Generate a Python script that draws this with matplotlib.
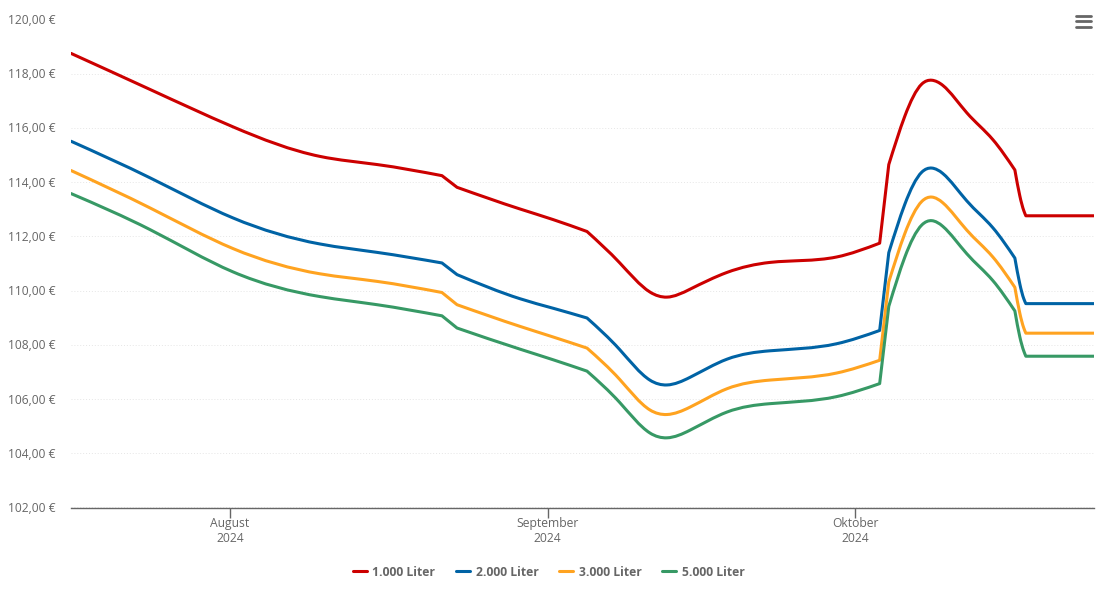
import matplotlib
matplotlib.use("Agg")
import numpy as np
import matplotlib.pyplot as plt
from matplotlib.lines import Line2D
from matplotlib.patches import PathPatch
from matplotlib.path import Path
from matplotlib.transforms import ScaledTranslation

plt.rcParams['font.family'] = ['Open Sans', 'DejaVu Sans']

# days counted from 1 Aug 2024
days = [-15.49, -7.78, 0.32, 8.8, 14.37, 20.7,
        22.17, 28.32, 31.54, 34.85, 38.05, 40.98, 42.65, 44.89, 48.5, 52.7, 59.2, 63.4,
        64.29, 65.85, 67.51, 68.49, 69.56, 71.9, 74.44, 76.59,
        77.07, 77.46, 77.66, 84.31]
# points where the curve has a visible corner (index into days)
corners = [5, 6, 9, 17, 18, 25, 28]

liter_1000 = [118.75, 117.42, 116.04, 114.95, 114.65, 114.24,
              113.81, 113.01, 112.62, 112.18, 111.02, 109.95, 109.76, 110.05, 110.67, 111.04, 111.24, 111.75,
              114.65, 116.43, 117.62, 117.76, 117.57, 116.56, 115.57, 114.45,
              113.5, 112.95, 112.76, 112.76]
liter_2000 = [115.51, 114.16, 112.68, 111.72, 111.41, 111.02,
              110.59, 109.7, 109.35, 108.99, 107.82, 106.7, 106.52, 106.8, 107.47, 107.78, 108.04, 108.53,
              111.4, 113.18, 114.37, 114.52, 114.32, 113.31, 112.32, 111.2,
              110.25, 109.7, 109.52, 109.52]
liter_3000 = [114.43, 113.05, 111.55, 110.62, 110.34, 109.93,
              109.48, 108.68, 108.29, 107.88, 106.72, 105.6, 105.43, 105.7, 106.38, 106.7, 106.96, 107.43,
              110.32, 112.1, 113.29, 113.45, 113.24, 112.23, 111.24, 110.12,
              109.17, 108.62, 108.43, 108.43]
liter_5000 = [113.58, 112.25, 110.69, 109.78, 109.48, 109.07,
              108.62, 107.84, 107.45, 107.03, 105.87, 104.75, 104.57, 104.85, 105.52, 105.83, 106.09, 106.57,
              109.42, 111.23, 112.42, 112.58, 112.37, 111.36, 110.37, 109.25,
              108.3, 107.77, 107.58, 107.58]

series = [("1.000 Liter", liter_1000, "#cc0000"),
          ("2.000 Liter", liter_2000, "#0063a5"),
          ("3.000 Liter", liter_3000, "#ffa320"),
          ("5.000 Liter", liter_5000, "#379965")]

y_ticks = [102, 104, 106, 108, 110, 112, 114, 116, 118, 120]
y_labels = ["102,00 €", "104,00 €", "106,00 €", "108,00 €", "110,00 €",
            "112,00 €", "114,00 €", "116,00 €", "118,00 €", "120,00 €"]
x_ticks = [0, 31, 61]
x_labels = ["August\n2024", "September\n2024", "Oktober\n2024"]

GREY = "#666666"


def natural_slopes(x, y):
    # slopes of the natural cubic spline through one stretch of points
    n = len(x)
    if n == 2:
        s = (y[1] - y[0]) / (x[1] - x[0])
        return [s, s]
    h = np.diff(x)
    d = np.diff(y) / h
    A = np.zeros((n, n))
    b = np.zeros(n)
    A[0, 0], A[0, 1], b[0] = 2, 1, 3 * d[0]
    A[-1, -2], A[-1, -1], b[-1] = 1, 2, 3 * d[-1]
    for i in range(1, n - 1):
        A[i, i - 1] = h[i]
        A[i, i] = 2 * (h[i - 1] + h[i])
        A[i, i + 1] = h[i - 1]
        b[i] = 3 * (h[i] * d[i - 1] + h[i - 1] * d[i])
    return np.linalg.solve(A, b)


def spline_path(xs, ys, breaks):
    xs = np.array(xs, dtype=float)
    ys = np.array(ys, dtype=float)
    stops = [0] + list(breaks) + [len(xs) - 1]
    verts = [(xs[0], ys[0])]
    codes = [Path.MOVETO]
    for a, b in zip(stops[:-1], stops[1:]):
        m = natural_slopes(xs[a:b + 1], ys[a:b + 1])
        for i in range(b - a):
            h = xs[a + i + 1] - xs[a + i]
            verts.append((xs[a + i] + h / 3, ys[a + i] + m[i] * h / 3))
            verts.append((xs[a + i + 1] - h / 3, ys[a + i + 1] - m[i + 1] * h / 3))
            verts.append((xs[a + i + 1], ys[a + i + 1]))
            codes += [Path.CURVE4, Path.CURVE4, Path.CURVE4]
    return Path(verts, codes)


fig = plt.figure(figsize=(11.05, 6.02), dpi=100)
ax = fig.add_axes([71 / 1105, 1 - 507.5 / 602, (1094 - 71) / 1105, (507.5 - 19.5) / 602])
ax.set_xlim(days[0], days[-1])
ax.set_ylim(102, 120)

handles = []
for name, values, color in series:
    ax.add_patch(PathPatch(spline_path(days, values, corners), fill=False, edgecolor=color,
                           linewidth=2.2, capstyle='round', joinstyle='round', zorder=3))
    handles.append(Line2D([], [], color=color, linewidth=2.2, solid_capstyle='round', label=name))

ax.set_yticks(y_ticks)
ax.set_yticklabels(y_labels)
ax.set_xticks(x_ticks)
ax.set_xticklabels(x_labels, linespacing=1.23)
ax.tick_params(axis='y', length=0, pad=11.5, labelsize=8.65, labelcolor=GREY)
ax.tick_params(axis='x', length=7.2, width=1, color=GREY, pad=-0.5, labelsize=8.7, labelcolor=GREY)
up = ScaledTranslation(0, 0.5 / 100, fig.dpi_scale_trans)
for label in ax.get_yticklabels():
    label.set_transform(label.get_transform() + up)
ax.grid(axis='y', color="#e6e6e6", linewidth=0.7, linestyle=(0, (1, 2)))
ax.set_axisbelow(True)
for side in ['top', 'left', 'right']:
    ax.spines[side].set_visible(False)
ax.spines['bottom'].set_color(GREY)
ax.spines['bottom'].set_linewidth(1)

leg = fig.legend(handles=handles, loc='center', bbox_to_anchor=(548.5 / 1105, 1 - 572 / 602), ncol=4,
                 frameon=False, handlelength=1.22, handletextpad=0.42, columnspacing=1.68,
                 prop={'size': 8.7, 'weight': 'bold'})
for t in leg.get_texts():
    t.set_color(GREY)

# menu icon top right
for y_px in [16, 21.3, 26.6]:
    fig.add_artist(Line2D([1076 / 1105, 1090.5 / 1105], [1 - y_px / 602] * 2, color=GREY,
                          linewidth=2, solid_capstyle='round'))

fig.savefig("out.png", dpi=100)
